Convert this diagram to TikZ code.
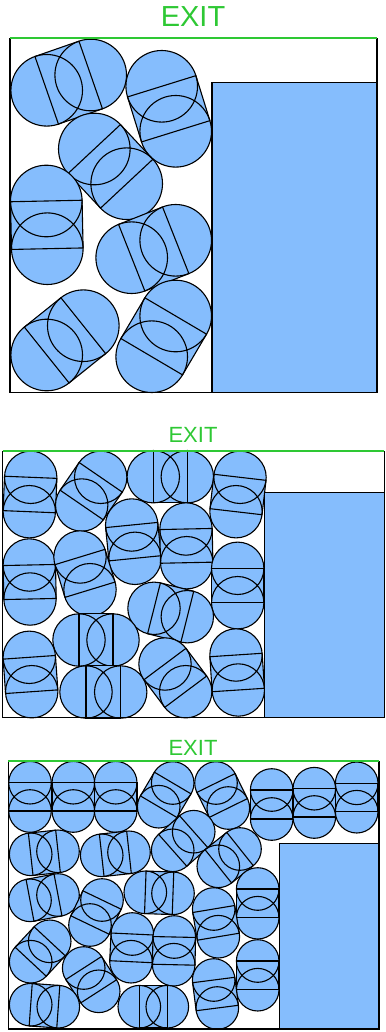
\documentclass[tikz,border=0pt]{standalone}
\usepackage{fontspec}
\setmainfont{Liberation Sans}
\usetikzlibrary{calc}

\definecolor{pillblue}{RGB}{133,189,253}
\definecolor{exitgreen}{RGB}{46,200,52}

% capsule: #1 first centre, #2 second centre, #3 radius
\newcommand{\pill}[3]{%
  \coordinate (pa) at #1;
  \coordinate (pb) at #2;
  \fill[pillblue] ($(pa)!#3!90:(pb)$) -- ($(pb)!#3!-90:(pa)$)
        -- ($(pb)!#3!90:(pa)$) -- ($(pa)!#3!-90:(pb)$) -- cycle;
  \fill[pillblue] (pa) circle[radius=#3] (pb) circle[radius=#3];
  \draw[pillline] ($(pa)!#3!90:(pb)$) -- ($(pb)!#3!-90:(pa)$)
        -- ($(pb)!#3!90:(pa)$) -- ($(pa)!#3!-90:(pb)$) -- cycle;
  \draw[pillline] (pa) circle[radius=#3] (pb) circle[radius=#3];
}

\begin{document}
\begin{tikzpicture}[
  x=1pt, y=-1pt,
  pillline/.style={draw=black, line width=1.1pt},
  wall/.style={draw=black, line width=1.4pt},
  exitline/.style={draw=exitgreen, line width=2pt},
  block/.style={draw=black, fill=pillblue, line width=1.2pt},
  exitlabel/.style={text=exitgreen, anchor=base, inner sep=0pt}
]
\useasboundingbox (0,0) rectangle (385,1032);

% first room
\node[exitlabel, font=\fontsize{29}{29}\selectfont] (exit1) at (193,27) {EXIT};
\pill{(46.7,90.3)}{(90.7,75)}{35.8pt}
\pill{(161.7,86.3)}{(175.7,131.3)}{35.8pt}
\pill{(94.3,149)}{(126.7,183.7)}{35.8pt}
\pill{(46.3,201)}{(47.3,248.7)}{35.8pt}
\pill{(131.7,257.7)}{(175.7,240.3)}{35.8pt}
\pill{(46.7,355)}{(83.3,325.7)}{35.8pt}
\pill{(151.7,356.7)}{(175.7,316)}{35.8pt}
\draw[block] (212,82.7) rectangle (377,392.7);
\draw[wall] (10,38.5) -- (10,392.7) -- (377,392.7) -- (377,38.5);
\draw[exitline] (10,38.5) -- (377,38.5);

% second room
\node[exitlabel, font=\fontsize{22}{22}\selectfont] (exit2) at (193,442.7) {EXIT};
\pill{(30.7,477.3)}{(29.3,511.7)}{26.2pt}
\pill{(100.7,477.3)}{(81.7,505)}{26.2pt}
\pill{(153.3,476.7)}{(187.3,476.7)}{26.2pt}
\pill{(240,477.3)}{(236,511.7)}{26.2pt}
\pill{(131.7,525)}{(135,558.3)}{26.2pt}
\pill{(186,529)}{(186.7,562.7)}{26.2pt}
\pill{(29.3,565)}{(30,599)}{26.2pt}
\pill{(80,557)}{(90,589.7)}{26.2pt}
\pill{(237.7,568.3)}{(237.7,602.7)}{26.2pt}
\pill{(154,608.3)}{(187.3,616.7)}{26.2pt}
\pill{(79,640)}{(113,640)}{26.2pt}
\pill{(29.3,657.3)}{(31.7,691.7)}{26.2pt}
\pill{(86,692)}{(120.7,692)}{26.2pt}
\pill{(165,664)}{(185.7,691.7)}{26.2pt}
\pill{(236,655)}{(238.3,690)}{26.2pt}
\draw[block] (264.3,492.7) rectangle (384.3,717.7);
\draw[wall] (2.7,451) -- (2.7,717.7) -- (384.3,717.7) -- (384.3,451);
\draw[exitline] (2.7,451) -- (384.3,451);

% third room
\node[exitlabel, font=\fontsize{22}{22}\selectfont] (exit3) at (193,755.7) {EXIT};
\pill{(30,782.7)}{(30,811)}{21.3pt}
\pill{(73.3,782.7)}{(73.3,811)}{21.3pt}
\pill{(115.7,782.7)}{(115.7,811)}{21.3pt}
\pill{(172.7,783)}{(158.7,806.7)}{21.3pt}
\pill{(216,783)}{(228.3,808)}{21.3pt}
\pill{(271.7,790)}{(271.7,819)}{21.3pt}
\pill{(314.3,788.7)}{(314.3,817)}{21.3pt}
\pill{(356.7,783.3)}{(356.7,811.7)}{21.3pt}
\pill{(30.7,854.3)}{(58,851.3)}{21.3pt}
\pill{(101.7,855.3)}{(129,852.3)}{21.3pt}
\pill{(172.7,850.3)}{(193.7,831.7)}{21.3pt}
\pill{(218.3,866.3)}{(240,849)}{21.3pt}
\pill{(30,900.3)}{(58,895)}{21.3pt}
\pill{(102,900)}{(90,925)}{21.3pt}
\pill{(145.3,892.3)}{(173,893.3)}{21.3pt}
\pill{(257.7,889)}{(257.7,917.7)}{21.3pt}
\pill{(213.7,909)}{(218.3,936.7)}{21.3pt}
\pill{(30.7,961.7)}{(49.7,941.3)}{21.3pt}
\pill{(132.3,934)}{(131,961.7)}{21.3pt}
\pill{(174.3,937)}{(173.7,964.7)}{21.3pt}
\pill{(257.7,961)}{(257.7,989.7)}{21.3pt}
\pill{(83.7,968)}{(98.7,991.3)}{21.3pt}
\pill{(30.7,1004.7)}{(58.3,1006.7)}{21.3pt}
\pill{(139.3,1006.7)}{(167.3,1006.7)}{21.3pt}
\pill{(213.7,980)}{(217.3,1008)}{21.3pt}
\draw[block] (279.3,843.3) rectangle (379,1029);
\draw[wall] (8.3,761) -- (8.3,1029) -- (379,1029) -- (379,761);
\draw[exitline] (8.3,761) -- (379,761);
\end{tikzpicture}
\end{document}
